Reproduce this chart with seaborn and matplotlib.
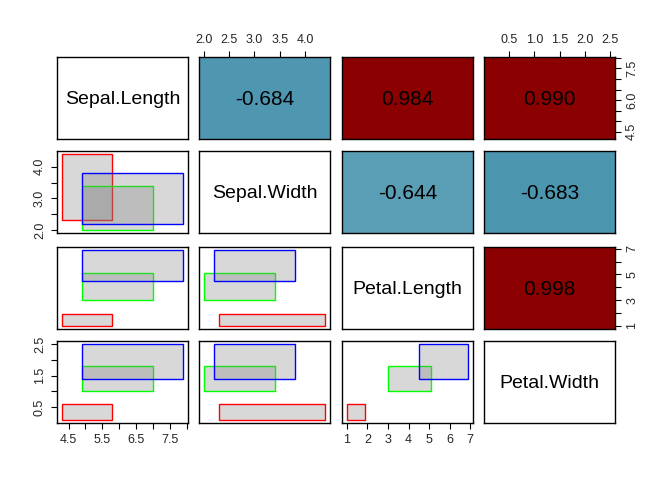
import numpy as np
import matplotlib
matplotlib.use('Agg')
import matplotlib.pyplot as plt
import seaborn as sns

# 変数と種
variables = ['Sepal.Length', 'Sepal.Width', 'Petal.Length', 'Petal.Width']
species = ['setosa', 'versicolor', 'virginica']

# 種ごとの範囲 (min, max)
setosa_min = [4.3, 2.3, 1.0, 0.1]
setosa_max = [5.8, 4.4, 1.9, 0.6]
versicolor_min = [4.9, 2.0, 3.0, 1.0]
versicolor_max = [7.0, 3.4, 5.1, 1.8]
virginica_min = [4.9, 2.2, 4.5, 1.4]
virginica_max = [7.9, 3.8, 6.9, 2.5]

# 上三角の相関値
corr_pairs = [(0, 1), (0, 2), (0, 3), (1, 2), (1, 3), (2, 3)]
corr_values = [-0.684, 0.984, 0.990, -0.644, -0.683, 0.998]

# 目盛り
var_ticks = [
    [4.5, 5.0, 5.5, 6.0, 6.5, 7.0, 7.5, 8.0],
    [2.0, 2.5, 3.0, 3.5, 4.0],
    [1, 2, 3, 4, 5, 6, 7],
    [0.5, 1.0, 1.5, 2.0, 2.5],
]
bottom_labels = {0: ['4.5', '', '5.5', '', '6.5', '', '7.5', ''],
                 2: ['1', '2', '3', '4', '5', '6', '7']}
top_labels = {1: ['2.0', '2.5', '3.0', '3.5', '4.0'],
              3: ['0.5', '1.0', '1.5', '2.0', '2.5']}
left_labels = {1: ['2.0', '', '3.0', '', '4.0'],
               3: ['0.5', '', '1.5', '', '2.5']}
right_labels = {0: ['4.5', '', '', '6.0', '', '', '7.5', ''],
                2: ['1', '', '3', '', '5', '', '7']}

sns.set_theme(style='white')
plt.rcParams['font.family'] = ['Liberation Sans', 'DejaVu Sans']

edge_colors = ['#FF0000', '#00FF00', '#0000FF']
fill_color = (0.5, 0.5, 0.5, 0.3)
cell_colors = {-0.684: '#4F97B1', -0.644: '#5A9EB5', -0.683: '#4C95AE'}

mins = [setosa_min, versicolor_min, virginica_min]
maxs = [setosa_max, versicolor_max, virginica_max]

# 軸範囲 (Rと同じく4%拡張)
lims = []
for k in range(4):
    lo = min(m[k] for m in mins)
    hi = max(m[k] for m in maxs)
    pad = (hi - lo) * 0.04
    lims.append((lo - pad, hi + pad))

W, H = 672, 480
fig = plt.figure(figsize=(W / 100, H / 100), dpi=100)
col_left = [57, 199, 342, 484]
row_top = [57, 151, 247, 341]
pw, ph = 131, 82

corr_map = dict(zip(corr_pairs, corr_values))

for i in range(4):
    for j in range(4):
        ax = fig.add_axes([col_left[j] / W, 1 - (row_top[i] + ph) / H, pw / W, ph / H])
        ax.set_xlim(lims[j])
        ax.set_ylim(lims[i])
        for s in ax.spines.values():
            s.set_color('black')
            s.set_linewidth(1.0)
        ax.set_xticks([])
        ax.set_yticks([])
        ax.grid(False)

        if i == j:
            ax.text(0.5, 0.48, variables[i], transform=ax.transAxes,
                    ha='center', va='center', fontsize=14, color='black')
        elif i > j:
            # 種ごとの範囲を矩形で描画
            for s_idx in range(3):
                x0, x1 = mins[s_idx][j], maxs[s_idx][j]
                y0, y1 = mins[s_idx][i], maxs[s_idx][i]
                ax.bar(x0, y1 - y0, width=x1 - x0, bottom=y0, align='edge',
                       facecolor=fill_color, edgecolor=edge_colors[s_idx], linewidth=1.0)
        else:
            v = corr_map[(i, j)]
            ax.set_facecolor(cell_colors.get(v, '#8B0000') if v < 0 else '#8B0000')
            ax.text(0.5, 0.48, f'{v:.3f}', transform=ax.transAxes,
                    ha='center', va='center', fontsize=15, color='black')

        tick_kw = dict(length=4, width=0.8, color='black', labelsize=9, pad=4)
        if i == 3 and j in bottom_labels:
            ax.set_xticks(var_ticks[j])
            ax.set_xticklabels(bottom_labels[j])
            ax.tick_params(axis='x', bottom=True, **tick_kw)
        if i == 0 and j in top_labels:
            ax.set_xticks(var_ticks[j])
            ax.set_xticklabels(top_labels[j])
            ax.tick_params(axis='x', top=True, labeltop=True, bottom=False,
                           labelbottom=False, **tick_kw)
        if j == 0 and i in left_labels:
            ax.set_yticks(var_ticks[i])
            ax.set_yticklabels(left_labels[i], rotation=90, va='center')
            ax.tick_params(axis='y', left=True, **tick_kw)
        if j == 3 and i in right_labels:
            ax.set_yticks(var_ticks[i])
            ax.set_yticklabels(right_labels[i], rotation=90, va='center')
            ax.tick_params(axis='y', right=True, labelright=True, left=False,
                           labelleft=False, **tick_kw)

fig.savefig('out.png', dpi=100)
